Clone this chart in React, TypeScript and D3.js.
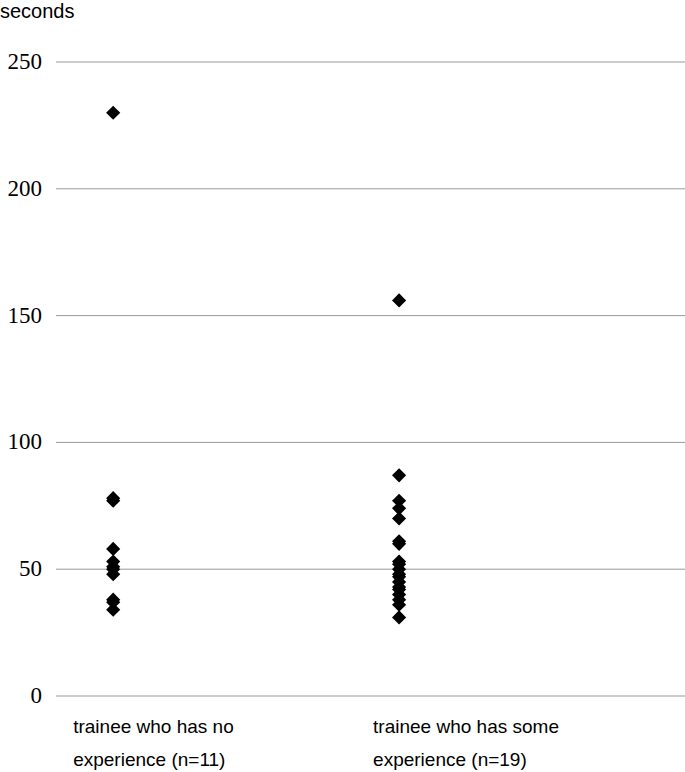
import React from 'react';
import * as d3 from 'd3';

// values (seconds)
const noExperience = [230, 78, 77, 58, 53, 51, 50, 48, 38, 37, 34];
const someExperience = [156, 87, 77, 74, 70, 61, 60, 53, 52, 50, 48, 47, 45, 43, 42, 40, 38, 36, 31];
const groups = [
  { x: 1, values: noExperience, label: ['trainee who has no', 'experience (n=11)'], labelShift: -40 },
  { x: 2, values: someExperience, label: ['trainee who has some', 'experience (n=19)'], labelShift: -26 },
];
const yTicks = [0, 50, 100, 150, 200, 250];

const W = 685;
const H = 772;

const App = () => {
  const x = d3.scaleLinear().domain([0.8, 3]).range([56, 685]);
  const y = d3.scaleLinear().domain([0, 250]).range([696, 62]);
  const diamond = d3.symbol().type(d3.symbolSquare).size(100)();

  return (
    <svg width={W} height={H} style={{ position: 'absolute', left: 0, top: 0 }}>
      <rect width={W} height={H} fill="#fff" />
      <text x={0} y={18} fontFamily="Liberation Sans, Arial, sans-serif" fontSize={20} fill="#000">
        seconds
      </text>
      {yTicks.map(t => (
        <g key={t}>
          <line x1={56} x2={685} y1={y(t)} y2={y(t)} stroke="#999" strokeWidth={1} />
          <text
            x={42}
            y={y(t) + 7}
            textAnchor="end"
            fontFamily="Liberation Serif, Times New Roman, serif"
            fontSize={23}
            fill="#000"
          >
            {t}
          </text>
        </g>
      ))}
      {groups.map(g => (
        <g key={g.x}>
          {g.values.map((v, i) => (
            <path
              key={i}
              d={diamond || ''}
              transform={`translate(${x(g.x)},${y(v)}) rotate(45)`}
              fill="#000"
            />
          ))}
          {g.label.map((l, i) => (
            <text
              key={i}
              x={x(g.x) + g.labelShift}
              y={733 + i * 33}
              fontFamily="Liberation Sans, Arial, sans-serif"
              fontSize={19}
              fill="#000"
            >
              {l}
            </text>
          ))}
        </g>
      ))}
    </svg>
  );
};

export default App;
